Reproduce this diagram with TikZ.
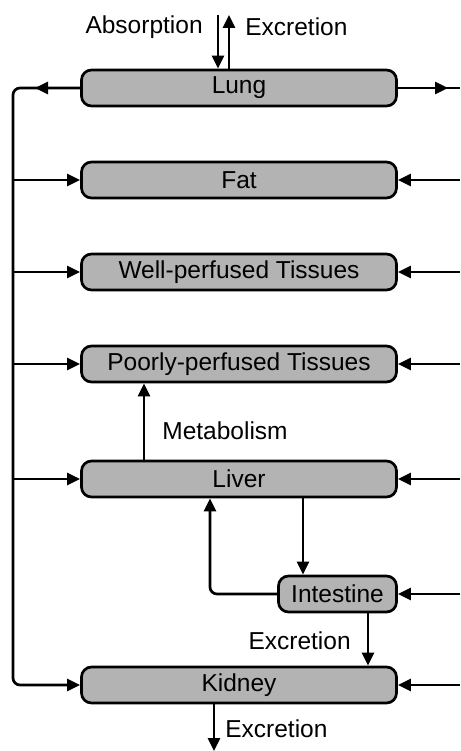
\documentclass[tikz,border=0pt]{standalone}
\usepackage{fontspec}
\setmainfont{Liberation Sans}
\usetikzlibrary{arrows.meta}
\begin{document}
\begin{tikzpicture}[x=1pt,y=-1pt,
  line width=2.7pt,
  >={Triangle[length=13pt,width=12pt]},
  compartment/.style={draw, fill=boxgray, rounded corners=10pt,
    minimum height=36pt, inner sep=0pt, font=\fontsize{24.5}{28}\selectfont},
  wide/.style={compartment, minimum width=315pt},
  lbl/.style={inner sep=0pt, font=\fontsize{24.5}{28}\selectfont}]
\definecolor{boxgray}{RGB}{179,179,179}
\useasboundingbox (0,0) rectangle (460,751);

% compartments
\node[wide] (lung)   at (239,88)  {Lung};
\node[wide] (fat)    at (239,180) {Fat};
\node[wide] (wp)     at (239,272) {Well-perfused Tissues};
\node[wide] (pp)     at (239,364) {Poorly-perfused Tissues};
\node[wide] (liver)  at (239,479) {Liver};
\node[compartment, minimum width=118pt] (gut) at (337.5,594) {Intestine};
\node[wide] (kidney) at (239,685) {Kidney};

% venous collection line on the left
\coordinate (vtop) at (13,88);
\coordinate (vbot) at (13,685);
\draw[rounded corners=7pt,->] (lung.west) -- (vtop) -- (vbot) -- (kidney.west);
\draw[->] (lung.west) -- (35,88);
\foreach \c in {fat,wp,pp,liver}
  \draw[->] (13,0 |- \c.west) -- (\c.west);

% arterial supply from the right
\coordinate (aout) at (460,88);
\draw (lung.east) -- (aout);
\draw[->] (lung.east) -- (448,88);
\foreach \c in {fat,wp,pp,liver,gut,kidney}
  \draw[->] (460,0 |- \c.east) -- (\c.east);

% uptake and exhalation
\coordinate (absin) at (218,15);
\coordinate (excout) at (229,15);
\draw[->] (absin) -- (absin |- lung.north);
\draw[->] (excout |- lung.north) -- (excout);
\node[lbl, anchor=east] (abslbl) at (204,27) {Absorption};
\node[lbl, anchor=west] (exclbl) at (244,27) {Excretion};

% metabolism
\draw[->] (144,0 |- liver.north) -- (144,0 |- pp.south);
\node[lbl, anchor=west] (metlbl) at (161,431) {Metabolism};

% enterohepatic exchange
\draw[->] (303,0 |- liver.south) -- (303,0 |- gut.north);
\draw[->, rounded corners=7pt] (gut.west) -- (210,594) -- (210,0 |- liver.south);

% intestinal excretion
\draw[->] (368,0 |- gut.south) -- (368,0 |- kidney.north);
\node[lbl, anchor=east] (gutexc) at (352,641) {Excretion};

% renal excretion
\coordinate (urine) at (214,751);
\draw[->] (214,0 |- kidney.south) -- (urine);
\node[lbl, anchor=west] (kidexc) at (224,729) {Excretion};
\end{tikzpicture}
\end{document}
